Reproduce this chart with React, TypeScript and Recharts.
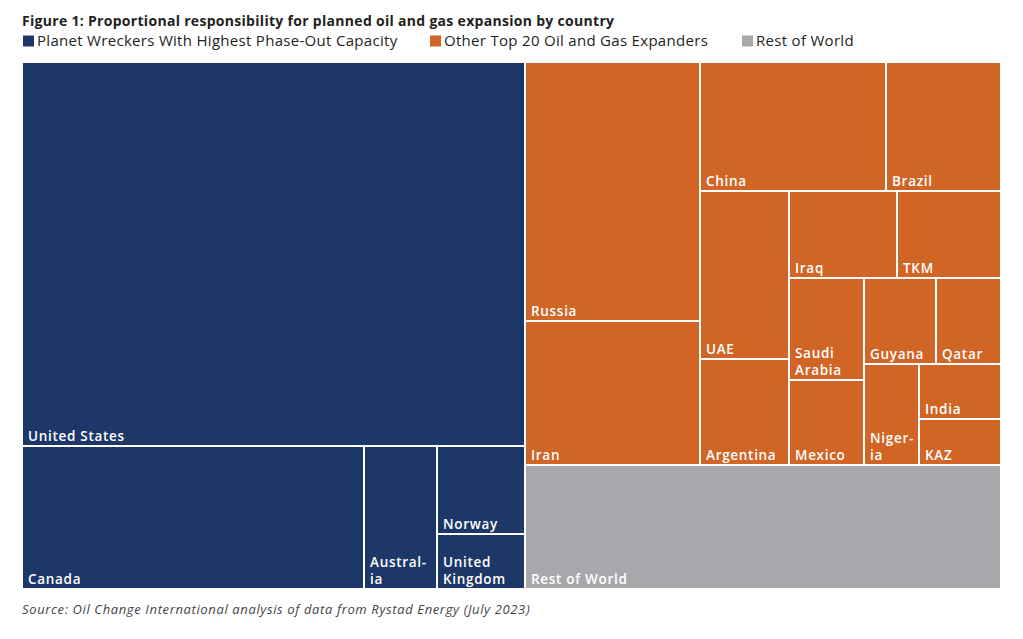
import React from "react";
import { Treemap } from "recharts";

// shares of planned oil and gas expansion (%)
const wreckerNames = ["United States", "Canada", "Australia", "Norway", "United Kingdom"];
const wreckerValues = [37.44, 9.48, 2.01, 1.5, 0.94];

const expanderNames = [
    "Russia", "Iran", "China", "Brazil", "UAE", "Argentina", "Iraq", "TKM",
    "Saudi Arabia", "Mexico", "Guyana", "Qatar", "Nigeria", "India", "KAZ",
];
const expanderValues = [8.79, 4.88, 4.65, 2.88, 2.9, 1.83, 1.82, 1.75, 1.48, 1.24, 1.19, 1.09, 1.07, 0.87, 0.74];
// the first ones share a strip two by two
const expanderPairedCount = 12;

const restOfWorldValue = 11.44;

const legendItems = [
    { key: "wrecker", label: "Planet Wreckers With Highest Phase-Out Capacity" },
    { key: "expander", label: "Other Top 20 Oil and Gas Expanders" },
    { key: "rest", label: "Rest of World" },
];

const COLORS: Record<string, string> = {
    wrecker: "#1c3768",
    expander: "#d06526",
    rest: "#a7a8ab",
};

// labels that wrap inside narrow cells
const WRAPPED: Record<string, string[]> = {
    Australia: ["Austral-", "ia"],
    "United Kingdom": ["United", "Kingdom"],
    "Saudi Arabia": ["Saudi", "Arabia"],
    Nigeria: ["Niger-", "ia"],
};

const FONT = "'Open Sans', 'Noto Sans', sans-serif";

const expanderLeaf = (i: number) => ({ name: expanderNames[i], value: expanderValues[i], group: "expander" });

const expanderChildren: any[] = [];
for (let i = 0; i < expanderPairedCount; i += 2) {
    expanderChildren.push({
        name: `${expanderNames[i]}-${expanderNames[i + 1]}`,
        children: [expanderLeaf(i), expanderLeaf(i + 1)],
    });
}
for (let i = expanderPairedCount; i < expanderNames.length; i++) {
    expanderChildren.push(expanderLeaf(i));
}

const treeData = [
    {
        name: "Planet Wreckers",
        children: wreckerNames.map((name, i) => ({ name, value: wreckerValues[i], group: "wrecker" })),
    },
    { name: "Other Top 20", children: expanderChildren },
    { name: "Rest of World", value: restOfWorldValue, group: "rest" },
];

const renderCell = (props: any) => {
    const { x, y, width, height, name, children, group } = props;
    if (children && children.length) return <g />;
    const lines = WRAPPED[name] || [name];
    const bottom = y + height - 5;
    return (
        <g>
            <rect x={x} y={y} width={width} height={height} fill={COLORS[group]} stroke="#fff" strokeWidth={2} />
            {lines.map((line, i) => (
                <text
                    key={line}
                    x={x + 6}
                    y={bottom - (lines.length - 1 - i) * 17}
                    fill="#fff"
                    fontFamily={FONT}
                    fontSize={13.5}
                    fontWeight={600}
                    letterSpacing={0.7}
                >
                    {line}
                </text>
            ))}
        </g>
    );
};

const legendX = [23, 430, 742];

export default function App() {
    return (
        <div style={{ position: "absolute", left: 0, top: 0, width: 1023, height: 639, background: "#fff" }}>
            <svg width={1023} height={639} style={{ position: "absolute", left: 0, top: 0 }}>
                <text x={22} y={25.5} fontFamily={FONT} fontSize={14} fontWeight={700} letterSpacing={0.3} fill="#231f20">
                    Figure 1: Proportional responsibility for planned oil and gas expansion by country
                </text>
                {legendItems.map((item, i) => (
                    <g key={item.key}>
                        <rect x={legendX[i]} y={35.5} width={11} height={11} fill={COLORS[item.key]} />
                        <text x={legendX[i] + 14} y={46} fontFamily={FONT} fontSize={15} letterSpacing={0.3} fill="#231f20">
                            {item.label}
                        </text>
                    </g>
                ))}
                <text x={22} y={614} fontFamily={FONT} fontSize={13} fontStyle="italic" letterSpacing={0.63} fill="#444">
                    Source: Oil Change International analysis of data from Rystad Energy (July 2023)
                </text>
            </svg>
            <div style={{ position: "absolute", left: 22, top: 62 }}>
                <Treemap
                    width={979}
                    height={527}
                    data={treeData}
                    dataKey="value"
                    aspectRatio={0.05}
                    isAnimationActive={false}
                    content={renderCell}
                />
            </div>
        </div>
    );
}
